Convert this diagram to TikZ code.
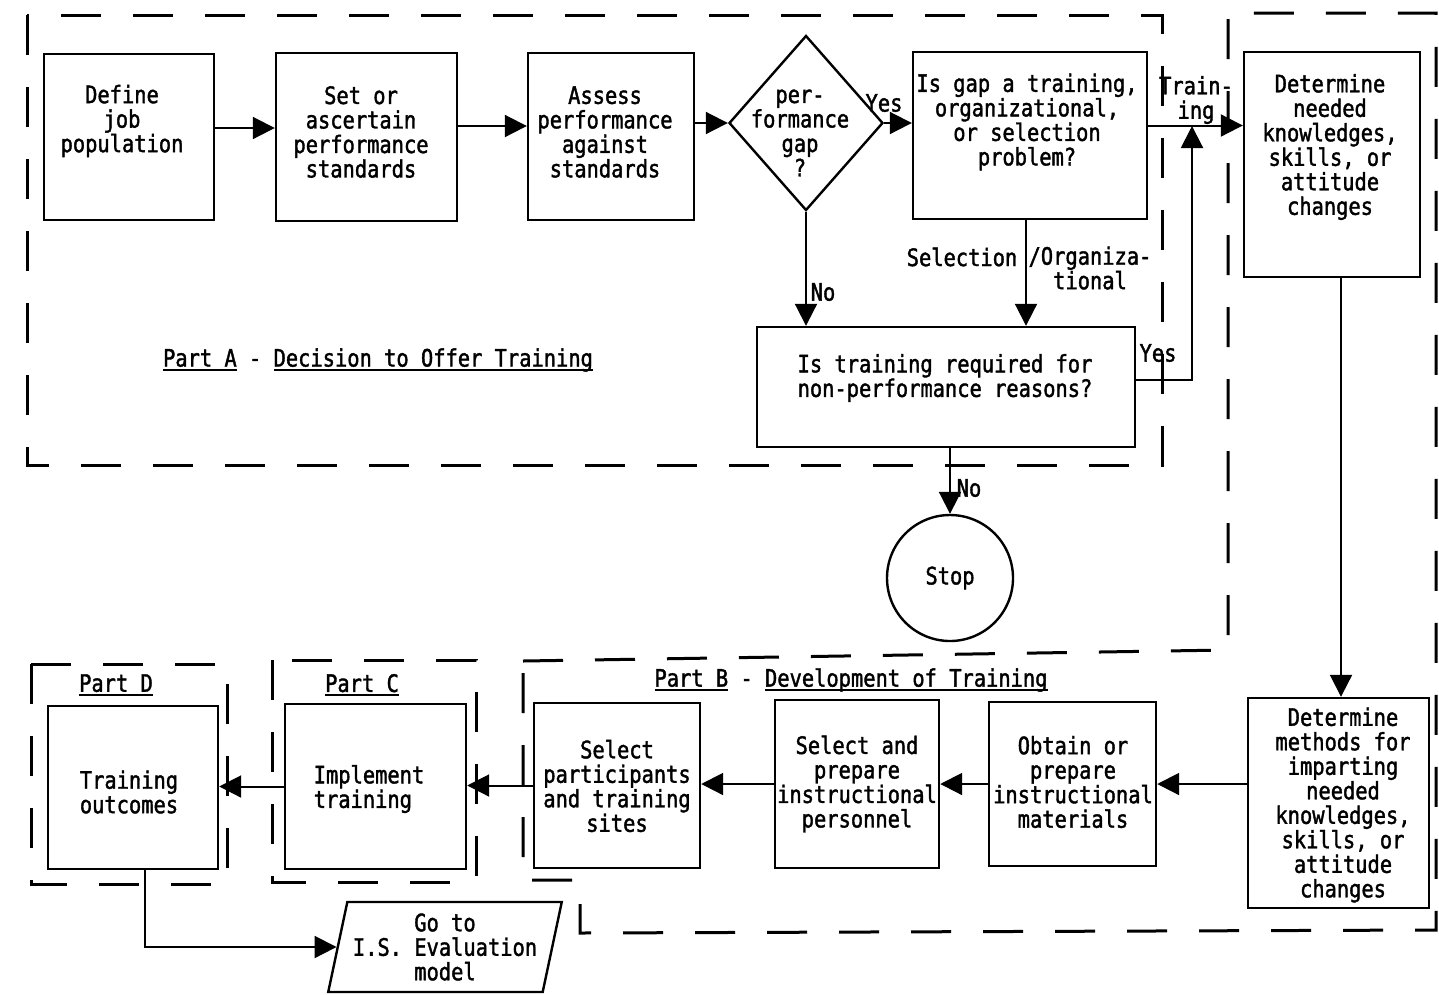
\documentclass[tikz,border=0pt]{standalone}
\usepackage{fontspec}
\setmainfont{DejaVu Sans Mono}[FakeStretch=0.85,FakeBold=1.6]
\usetikzlibrary{arrows.meta,shapes.geometric}
\newcommand\ulx[1]{{\setbox0\hbox{#1}\rlap{\rule[-4pt]{\wd0}{2pt}}\box0}}
\begin{document}
\begin{tikzpicture}[x=1pt,y=-1pt,
  box/.style={draw, line width=2.4pt, inner sep=0pt},
  txt/.style={align=center, font=\fontsize{24}{24.5}\selectfont, inner sep=0pt},
  lbl/.style={align=center, font=\fontsize{24}{24.5}\selectfont, inner sep=0pt},
  conn/.style={line width=2pt, -{Triangle[length=22pt,width=22pt]}},
  part/.style={line width=3pt, dash pattern=on 40pt off 32pt}]
\useasboundingbox (0,0) rectangle (1439,994);

% dashed regions
\draw[part] (27,15) rectangle (1162,465);
\draw[part] (523,661) -- (1228,650) -- (1228,13) -- (1436,13) -- (1436,930) -- (580,933) -- (580,880) -- (523,880) -- cycle;
\draw[part] (272,660) rectangle (476,882);
\draw[part] (31,664) rectangle (227,884);

% boxes
\node[box, minimum width=170, minimum height=166] (define) at (129,137) {};
\node[box, minimum width=181, minimum height=168] (setstd) at (366.5,137) {};
\node[box, minimum width=166, minimum height=167] (assess) at (611,136.5) {};
\node[box, shape=diamond, minimum width=154, minimum height=175] (gap) at (806,123) {};
\node[box, minimum width=234, minimum height=167] (isgap) at (1030,135.5) {};
\node[box, minimum width=176, minimum height=225] (detneed) at (1332,164.5) {};
\node[box, minimum width=378, minimum height=120] (isreq) at (946,387) {};
\node[box, shape=circle, minimum size=126, txt] (stop) at (950,578) {Stop};
\node[box, minimum width=181, minimum height=210] (detmeth) at (1338.5,803) {};
\node[box, minimum width=167, minimum height=164] (obtain) at (1072.5,784) {};
\node[box, minimum width=164, minimum height=168] (selpers) at (857,784) {};
\node[box, minimum width=166, minimum height=165] (selpart) at (617,785.5) {};
\node[box, minimum width=181, minimum height=165] (impl) at (375.5,786.5) {};
\node[box, minimum width=170, minimum height=163] (outc) at (133,787.5) {};
\node[box, shape=trapezium, trapezium left angle=75, trapezium right angle=105, trapezium stretches=true, minimum width=234, minimum height=90, txt] (goto) at (445,947) {Go to\\I.S. Evaluation\\model};

% texts
\node[txt] (t1) at (122,121) {Define\\job\\population};
\node[txt] (t2) at (361,132) {Set or\\ascertain\\performance\\standards};
\node[txt] (t3) at (605,132) {Assess\\performance\\against\\standards};
\node[txt] (t4) at (800,133) {per-\\formance\\gap\\?};
\node[txt] (t5) at (1027,122) {Is gap a training,\\organizational,\\or selection\\problem?};
\node[txt] (t6) at (1330,147) {Determine\\needed\\knowledges,\\skills, or\\attitude\\changes};
\node[txt] (t7) at (945,378) {Is training required for\\non-performance reasons?};
\node[txt] (t8) at (1343,805) {Determine\\methods for\\imparting\\needed\\knowledges,\\skills, or\\attitude\\changes};
\node[txt] (t9) at (1073,782) {Obtain or\\prepare\\instructional\\materials};
\node[txt] (t10) at (857,784) {Select and\\prepare\\instructional\\personnel};
\node[txt] (t11) at (617,786) {Select\\participants\\and training\\sites};
\node[txt, align=left] (t12) at (369,789) {Implement\\training};
\node[txt] (t13) at (129,792) {Training\\outcomes};

% part labels
\node[lbl] (la) at (378,360) {\ulx{Part A} - \ulx{Decision to Offer Training}};
\node[lbl] (lb) at (851,680) {\ulx{Part B} - \ulx{Development of Training}};
\node[lbl] (lc) at (362,685) {\ulx{Part C}};
\node[lbl] (ld) at (116,685) {\ulx{Part D}};

% connectors
\draw[conn] ([yshift=9pt]define.east) -- ([yshift=9pt]define.east -| setstd.west);
\draw[conn] ([yshift=11pt]setstd.east) -- ([yshift=11pt]setstd.east -| assess.west);
\draw[conn] (assess.east |- gap.west) -- (gap.west);
\draw[conn] (gap.east) -- (gap.east -| isgap.west);
\draw[conn] (gap.south) -- (gap.south |- isreq.north);
\draw[conn] ([xshift=-4pt]isgap.south) -- ([xshift=-4pt]isgap.south |- isreq.north);
\draw[conn] ([yshift=10pt]isgap.east) -- ([yshift=10pt]isgap.east -| detneed.west);
\coordinate (tjoin) at (1192,126);
\draw[conn] ([yshift=7pt]isreq.east) -| (tjoin);
\draw[conn] (stop.north |- isreq.south) -- (stop.north);
\draw[conn] ([xshift=9pt]detneed.south) -- ([xshift=9pt]detneed.south |- detmeth.north);
\draw[conn] (obtain.east -| detmeth.west) -- (obtain.east);
\draw[conn] (obtain.west) -- (obtain.west -| selpers.east);
\draw[conn] (selpers.west) -- (selpers.west -| selpart.east);
\draw[conn] (selpart.west) -- (selpart.west -| impl.east);
\draw[conn] (impl.west) -- (impl.west -| outc.east);
\draw[conn] ([xshift=12pt]outc.south) |- (goto.west);

% connector labels
\node[lbl] (yes1) at (884,103) {Yes};
\node[lbl] (no1) at (823,292) {No};
\node[lbl] (sel) at (962,257) {Selection};
\node[lbl] (org) at (1090,268) {/Organiza-\\tional};
\node[lbl] (trn) at (1196,100) {Train-\\ing};
\node[lbl] (yes2) at (1158,353) {Yes};
\node[lbl] (no2) at (969,488) {No};
\end{tikzpicture}
\end{document}
